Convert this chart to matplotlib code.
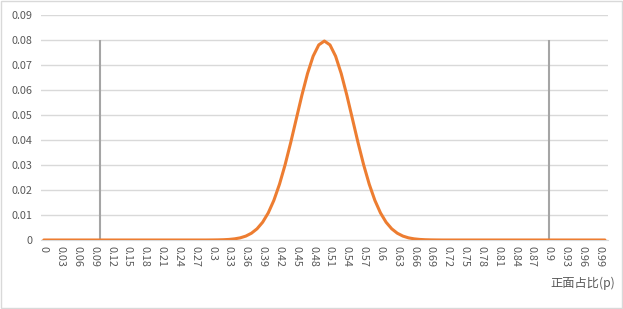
import numpy as np
import matplotlib.pyplot as plt
from matplotlib.patches import Rectangle

plt.rcParams['font.family'] = ['Noto Sans CJK SC', 'DejaVu Sans']

# categories 0.00 .. 1.00 (step 0.01)
P_LABELS = [f"{k / 100:g}" for k in range(101)]

# probability of each share of heads
PROB = [0.0] * 30 + [
    0.00002, 0.00005, 0.00011, 0.00023, 0.00046, 0.00086, 0.00156, 0.00271,
    0.00448, 0.00711, 0.01084, 0.01586, 0.02229, 0.03007, 0.03895, 0.04847,
    0.05796, 0.06659, 0.07353, 0.07803, 0.07959, 0.07803, 0.07353, 0.06659,
    0.05796, 0.04847, 0.03895, 0.03007, 0.02229, 0.01586, 0.01084, 0.00711,
    0.00448, 0.00271, 0.00156, 0.00086, 0.00046, 0.00023, 0.00011, 0.00005,
    0.00002,
] + [0.0] * 30

# gray marker lines at p = 0.1 and p = 0.9
MARK_IDX = [10, 90]
MARK_HEIGHT = 0.08

Y_TICKS = [0, 0.01, 0.02, 0.03, 0.04, 0.05, 0.06, 0.07, 0.08, 0.09]

TXT = "#595959"
GRID = "#d9d9d9"

fig = plt.figure(figsize=(6.23, 3.09), dpi=100)
fig.add_artist(Rectangle((0.001, 0.002), 0.997, 0.995, transform=fig.transFigure,
                         fill=False, edgecolor=GRID, linewidth=1.0))

ax = fig.add_axes([0.0658, 0.2233, 0.9097, 0.7282])

x = np.arange(len(PROB))
ax.vlines(MARK_IDX, 0, MARK_HEIGHT, color="#a5a5a5", linewidth=1.5, zorder=2)
ax.plot(x, PROB, color="#ed7d31", linewidth=2.2, solid_capstyle="round", zorder=3)

ax.set_xlim(-0.5, len(PROB) - 0.5)
ax.set_ylim(0, 0.09)
ax.set_yticks(Y_TICKS)
ax.set_yticklabels([f"{v:g}" for v in Y_TICKS])
ax.yaxis.grid(True, color=GRID, linewidth=1.0)
ax.set_axisbelow(True)

tick_idx = list(range(0, 100, 3))
ax.set_xticks(tick_idx)
ax.set_xticklabels([P_LABELS[i] for i in tick_idx], rotation=-90, va="top", ha="center")

for s in ["top", "right", "left"]:
    ax.spines[s].set_visible(False)
ax.spines["bottom"].set_color(GRID)
ax.tick_params(axis="both", length=0, labelsize=7.8, colors=TXT)
ax.tick_params(axis="y", pad=6)
ax.tick_params(axis="x", pad=4)

fig.text(0.987, 0.083, "正面占比(p)", ha="right", va="center", fontsize=8.8, color=TXT)

fig.savefig("out.png", dpi=100)
